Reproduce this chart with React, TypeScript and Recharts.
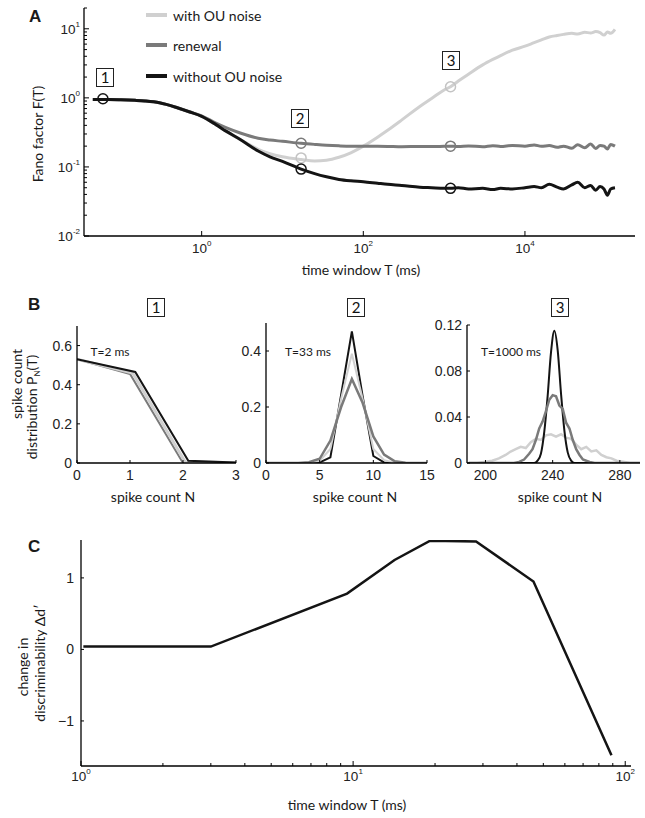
import React from 'react';
import { LineChart, Line, XAxis, YAxis } from 'recharts';

const BLACK = '#141414';
const GRAY = '#7a7a7a';
const LIGHT = '#d0d0d0';
const TICK_FONT = '"Liberation Sans", Arial, sans-serif';
const LABEL_FONT = 'Lato, "Open Sans", sans-serif';

// ---- panel A: Fano factor vs time window (ms)
const fanoT = [0.045, 0.07, 0.1, 0.15, 0.2, 0.3, 0.5, 0.7, 1, 1.5, 2, 3, 5, 7, 10, 17, 25, 35, 50, 70,
  100, 150, 200, 300, 500, 700, 1000, 1200, 1500, 2000, 3000, 4000, 5000, 7000, 10000, 13000, 16000,
  20000, 25000, 30000, 38000, 45000, 55000, 65000, 75000, 85000, 95000, 105000, 115000, 130000];
const fanoWithout = [0.95, 0.95, 0.94, 0.92, 0.9, 0.85, 0.72, 0.63, 0.54, 0.41, 0.33, 0.25, 0.17, 0.14, 0.12,
  0.093, 0.08, 0.072, 0.066, 0.063, 0.061, 0.058, 0.056, 0.054, 0.051, 0.05, 0.049, 0.049,
  0.05, 0.048, 0.049, 0.047, 0.049, 0.048, 0.05, 0.052, 0.05, 0.056, 0.051, 0.048, 0.055, 0.06,
  0.05, 0.054, 0.046, 0.052, 0.048, 0.039, 0.048, 0.05];
const fanoRenewal = [0.95, 0.95, 0.94, 0.92, 0.9, 0.85, 0.72, 0.63, 0.55, 0.43, 0.37, 0.31, 0.26, 0.245, 0.235,
  0.22, 0.212, 0.206, 0.202, 0.2, 0.2, 0.199, 0.198, 0.196, 0.198, 0.197, 0.199, 0.2,
  0.197, 0.201, 0.196, 0.203, 0.198, 0.205, 0.2, 0.208, 0.199, 0.204, 0.192, 0.2, 0.186, 0.21,
  0.19, 0.215, 0.185, 0.205, 0.2, 0.182, 0.212, 0.2];
const fanoOU = [0.95, 0.95, 0.94, 0.92, 0.9, 0.85, 0.72, 0.63, 0.54, 0.41, 0.33, 0.25, 0.18, 0.155, 0.14,
  0.128, 0.122, 0.125, 0.138, 0.16, 0.2, 0.27, 0.34, 0.48, 0.75, 0.98, 1.3, 1.45,
  1.75, 2.2, 3.0, 3.6, 4.1, 4.9, 5.6, 6.3, 6.9, 7.6, 8.0, 8.3, 8.6, 8.4,
  8.9, 8.7, 9.1, 8.8, 8.1, 9.0, 8.6, 9.8];
const markWithoutT = [0.06, 17, 1200];
const markWithoutF = [0.97, 0.093, 0.049];
const markRenewalT = [17, 1200];
const markRenewalF = [0.22, 0.2];
const markOUT = [17, 1200];
const markOUF = [0.135, 1.45];
const aXTicks = [1, 100, 10000];
const aYMajor = [0.01, 0.1, 1, 10];
const aYMinor = [2, 3, 4, 5, 6, 7, 8, 9];

// ---- panel B: spike count distributions
const b1NWithout = [0, 1.1, 2.1, 3];
const b1Without = [0.53, 0.465, 0.012, 0.002];
const b1NRenewal = [0, 1, 2, 3];
const b1Renewal = [0.53, 0.455, 0, 0];
const b1NOU = [0, 1.05, 2.04, 3];
const b1OU = [0.53, 0.46, 0.005, 0.001];
const b1XTicks = [0, 1, 2, 3];
const b1YTicks = [0, 0.2, 0.4, 0.6];

const b2N = [0, 1, 2, 3, 4, 5, 6, 7, 8, 9, 10, 11, 12, 13, 14, 15];
const b2Without = [0, 0, 0, 0, 0, 0.002, 0.02, 0.244, 0.47, 0.24, 0.025, 0.002, 0, 0, 0, 0];
const b2Renewal = [0, 0, 0, 0, 0.003, 0.015, 0.08, 0.2, 0.3, 0.215, 0.095, 0.03, 0.006, 0.001, 0, 0];
const b2OU = [0, 0, 0, 0, 0.001, 0.008, 0.05, 0.23, 0.39, 0.23, 0.05, 0.01, 0.001, 0, 0, 0];
const b2XTicks = [0, 5, 10, 15];
const b2YTicks = [0, 0.2, 0.4];

const b3NWithout = [190, 229, 231, 233, 235, 237, 239, 241, 243, 245, 247, 249, 251, 253, 292];
const b3Without = [0, 0, 0.002, 0.008, 0.027, 0.058, 0.096, 0.115, 0.098, 0.06, 0.028, 0.009, 0.002, 0, 0];
const b3NRenewal = [190, 217, 220, 223, 226, 228, 230, 232, 234, 236, 238, 240, 242, 244, 246, 248, 250,
  252, 254, 256, 258, 260, 262, 265, 292];
const b3Renewal = [0, 0, 0.001, 0.003, 0.008, 0.012, 0.02, 0.03, 0.036, 0.045, 0.055, 0.059, 0.058, 0.05,
  0.047, 0.035, 0.03, 0.02, 0.012, 0.007, 0.003, 0.002, 0.001, 0, 0];
const b3NOU = [190, 195, 200, 204, 208, 212, 215, 218, 221, 224, 227, 230, 233, 236, 239, 242, 245, 248,
  251, 254, 257, 260, 263, 266, 269, 272, 275, 278, 282, 286, 292];
const b3OU = [0, 0, 0.001, 0.002, 0.004, 0.007, 0.01, 0.012, 0.014, 0.013, 0.018, 0.021, 0.02, 0.024,
  0.025, 0.023, 0.025, 0.022, 0.021, 0.016, 0.012, 0.014, 0.01, 0.011, 0.007, 0.005, 0.004, 0.002, 0.001, 0, 0];
const b3XTicks = [200, 240, 280];
const b3YTicks = [0, 0.04, 0.08, 0.12];

// ---- panel C: change in discriminability
const cT = [1.02, 3.0, 9.5, 14.2, 19.2, 28.3, 46, 89];
const cDelta = [0.04, 0.04, 0.78, 1.25, 1.52, 1.51, 0.95, -1.48];
const cXMajor = [1, 10, 100];
const cXMinor = [2, 3, 4, 5, 6, 7, 8, 9, 20, 30, 40, 50, 60, 70, 80, 90];
const cYTicks = [-1, 0, 1];

const rows = (xs: number[], ys: number[]) => xs.map((x, i) => ({ x, y: ys[i] }));

const AXIS_LINE = { stroke: '#000', strokeWidth: 1.3 };

function PowXTick({ x, y, payload, majors, size }: any) {
  const v = payload.value;
  const major = majors.includes(v);
  const e = Math.round(Math.log10(v));
  return (
    <g>
      <line x1={x} x2={x} y1={y} y2={y - (major ? 5 : 3)} stroke="#000" strokeWidth={1} />
      {major && (
        <text x={x} y={y + size} textAnchor="middle" fontFamily={TICK_FONT} fontSize={13.5} fill="#222">
          10<tspan dy={-7} fontSize={8}>{e}</tspan>
        </text>
      )}
    </g>
  );
}

function PowYTick({ x, y, payload, majors }: any) {
  const v = payload.value;
  const major = majors.includes(v);
  const e = Math.round(Math.log10(v));
  return (
    <g>
      <line x1={x} x2={x + (major ? 5 : 3)} y1={y} y2={y} stroke="#000" strokeWidth={1} />
      {major && (
        <text x={x - 4} y={y + 5} textAnchor="end" fontFamily={TICK_FONT} fontSize={13.5} fill="#222">
          10<tspan dy={-7} fontSize={8}>{e}</tspan>
        </text>
      )}
    </g>
  );
}

function NumXTick({ x, y, payload, dy }: any) {
  return (
    <g>
      <line x1={x} x2={x} y1={y} y2={y - 3} stroke="#000" strokeWidth={1} />
      <text x={x} y={y + (dy || 17)} textAnchor="middle" fontFamily={TICK_FONT} fontSize={14} fill="#222">
        {payload.value}
      </text>
    </g>
  );
}

function NumYTick({ x, y, payload, gap }: any) {
  const v = payload.value;
  return (
    <g>
      <line x1={x} x2={x + 3} y1={y} y2={y} stroke="#000" strokeWidth={1} />
      <text x={x - (gap || 5)} y={y + 5} textAnchor="end" fontFamily={TICK_FONT} fontSize={14} fill="#222">
        {v < 0 ? '\u2212' + Math.abs(v) : v}
      </text>
    </g>
  );
}

const abs = (left: number, top: number, extra: React.CSSProperties = {}): React.CSSProperties => ({
  position: 'absolute', left, top, ...extra,
});

function Text({ x, y, children, size = 14, rotate = false, anchor = 'center', font = LABEL_FONT, bold = false }: any) {
  const tx = anchor === 'center' ? '-50%' : anchor === 'end' ? '-100%' : '0';
  return (
    <div style={{
      position: 'absolute', left: x, top: y, whiteSpace: 'nowrap', fontFamily: font, fontSize: size,
      fontWeight: bold ? 700 : 400, color: '#1a1a1a', lineHeight: 1,
      transform: rotate ? `translate(${tx}, -50%) rotate(-90deg)` : `translate(${tx}, -50%)`,
      transformOrigin: 'center',
    }}>{children}</div>
  );
}

function BoxNum({ x, y, n }: any) {
  return (
    <div style={{
      position: 'absolute', left: x - 9, top: y - 9, width: 16, height: 17, border: '1px solid #222',
      fontFamily: LABEL_FONT, fontSize: 15, lineHeight: '17px', textAlign: 'center', color: '#111',
    }}>{n}</div>
  );
}

function LegendRow({ y, color, label }: any) {
  return (
    <div style={abs(146, y - 8, { display: 'flex', alignItems: 'center', height: 16 })}>
      <div style={{ width: 21, height: 3.5, background: color }} />
      <span style={{ marginLeft: 6, fontFamily: LABEL_FONT, fontSize: 14, color: '#1a1a1a' }}>{label}</span>
    </div>
  );
}

function PanelA() {
  const minor = aYMajor.slice(0, 3).flatMap((d) => aYMinor.map((m) => +(d * m).toPrecision(2))).concat([20]);
  const yTicks = [...aYMajor, ...minor].filter((v) => v <= 20).sort((a, b) => a - b);
  return (
    <div style={abs(0, 0)}>
      <LineChart width={645} height={260} margin={{ top: 8, right: 10, left: 0, bottom: 0 }}>
        <XAxis type="number" dataKey="x" scale="log" domain={[0.035, 230000]} allowDataOverflow
          ticks={aXTicks} interval={0} height={24} tickSize={0} tickMargin={0} tickLine={false}
          axisLine={AXIS_LINE} tick={(p: any) => <PowXTick {...p} majors={aXTicks} size={17} />} />
        <YAxis type="number" dataKey="y" scale="log" domain={[0.01, 20]} allowDataOverflow
          ticks={yTicks} interval={0} width={84} tickSize={0} tickMargin={0} tickLine={false}
          axisLine={AXIS_LINE} tick={(p: any) => <PowYTick {...p} majors={aYMajor} />} />
        <Line data={rows(fanoT, fanoOU)} dataKey="y" type="monotone" stroke={LIGHT} strokeWidth={3} dot={false} isAnimationActive={false} />
        <Line data={rows(fanoT, fanoRenewal)} dataKey="y" type="monotone" stroke={GRAY} strokeWidth={3} dot={false} isAnimationActive={false} />
        <Line data={rows(fanoT, fanoWithout)} dataKey="y" type="monotone" stroke={BLACK} strokeWidth={3} dot={false} isAnimationActive={false} />
        <Line data={rows(markOUT, markOUF)} dataKey="y" stroke="none" isAnimationActive={false}
          dot={{ r: 5, fill: 'none', stroke: '#c4c4c4', strokeWidth: 1.5 }} />
        <Line data={rows(markRenewalT, markRenewalF)} dataKey="y" stroke="none" isAnimationActive={false}
          dot={{ r: 5, fill: 'none', stroke: GRAY, strokeWidth: 1.5 }} />
        <Line data={rows(markWithoutT, markWithoutF)} dataKey="y" stroke="none" isAnimationActive={false}
          dot={{ r: 5, fill: 'none', stroke: BLACK, strokeWidth: 1.5 }} />
      </LineChart>
    </div>
  );
}

function DistChart({ left, top, width, height, yWidth, xDomain, yDomain, xTicks, yTicks, series, right }: any) {
  return (
    <div style={abs(left, top)}>
      <LineChart width={width} height={height} margin={{ top: 10, right, left: 0, bottom: 0 }}>
        <XAxis type="number" dataKey="x" domain={xDomain} allowDataOverflow ticks={xTicks} interval={0}
          height={23} tickSize={0} tickMargin={0} tickLine={false} axisLine={AXIS_LINE}
          tick={(p: any) => <NumXTick {...p} />} />
        <YAxis type="number" dataKey="y" domain={yDomain} allowDataOverflow ticks={yTicks} interval={0}
          width={yWidth} tickSize={0} tickMargin={0} tickLine={false} axisLine={AXIS_LINE}
          tick={(p: any) => <NumYTick {...p} />} />
        {series.map((s: any, i: number) => (
          <Line key={i} data={s.data} dataKey="y" type={s.curve || 'linear'} stroke={s.color} strokeWidth={s.w}
            dot={false} isAnimationActive={false} />
        ))}
      </LineChart>
    </div>
  );
}

function PanelC() {
  const xTicks = [...cXMajor, ...cXMinor].sort((a, b) => a - b);
  return (
    <div style={abs(0, 530)}>
      <LineChart width={645} height={260} margin={{ top: 10, right: 14, left: 0, bottom: 0 }}>
        <XAxis type="number" dataKey="x" scale="log" domain={[1, 105]} allowDataOverflow ticks={xTicks}
          interval={0} height={24} tickSize={0} tickMargin={0} tickLine={false} axisLine={AXIS_LINE}
          tick={(p: any) => <PowXTick {...p} majors={cXMajor} size={15} />} />
        <YAxis type="number" dataKey="y" domain={[-1.63, 1.53]} allowDataOverflow ticks={cYTicks} interval={0}
          width={81} tickSize={0} tickMargin={0} tickLine={false} axisLine={AXIS_LINE}
          tick={(p: any) => <NumYTick {...p} gap={7} />} />
        <Line data={rows(cT, cDelta)} dataKey="y" stroke={BLACK} strokeWidth={2.5} dot={false}
          type="linear" isAnimationActive={false} />
      </LineChart>
    </div>
  );
}

export default function App() {
  return (
    <div style={{ position: 'absolute', left: 0, top: 0, width: 645, height: 818, background: '#fff', overflow: 'hidden' }}>
      <PanelA />
      <Text x={29} y={16} size={17} bold font={TICK_FONT} anchor="start">A</Text>
      <Text x={38} y={134} rotate>Fano factor F(T)</Text>
      <Text x={361} y={270}>time window T (ms)</Text>
      <LegendRow y={15} color={LIGHT} label="with OU noise" />
      <LegendRow y={45} color={GRAY} label="renewal" />
      <LegendRow y={76} color={BLACK} label="without OU noise" />
      <BoxNum x={105} y={77} n="1" />
      <BoxNum x={300} y={118} n="2" />
      <BoxNum x={451} y={60} n="3" />

      <Text x={28} y={304} size={17} bold font={TICK_FONT} anchor="start">B</Text>
      <BoxNum x={156} y={307} n="1" />
      <BoxNum x={356} y={307} n="2" />
      <BoxNum x={560} y={307} n="3" />
      <Text x={17} y={384} rotate>spike count</Text>
      <Text x={33} y={407} rotate>distribution P<sub style={{ fontSize: 8 }}>N</sub>(T)</Text>
      <DistChart left={0} top={316} width={246} height={170} yWidth={77} right={10}
        xDomain={[0, 3]} yDomain={[0, 0.7]} xTicks={b1XTicks} yTicks={b1YTicks}
        series={[
          { data: rows(b1NRenewal, b1Renewal), color: GRAY, w: 2 },
          { data: rows(b1NOU, b1OU), color: LIGHT, w: 3 },
          { data: rows(b1NWithout, b1Without), color: BLACK, w: 2 },
        ]} />
      <DistChart left={200} top={313} width={237} height={173} yWidth={66} right={10}
        xDomain={[0, 15]} yDomain={[0, 0.5]} xTicks={b2XTicks} yTicks={b2YTicks}
        series={[
          { data: rows(b2N, b2Without), color: BLACK, w: 2 },
          { data: rows(b2N, b2OU), color: LIGHT, w: 2 },
          { data: rows(b2N, b2Renewal), color: GRAY, w: 2.5 },
        ]} />
      <DistChart left={400} top={315} width={245} height={171} yWidth={67} right={5}
        xDomain={[189, 292]} yDomain={[0, 0.12]} xTicks={b3XTicks} yTicks={b3YTicks}
        series={[
          { data: rows(b3NOU, b3OU), color: LIGHT, w: 2.5 },
          { data: rows(b3NWithout, b3Without), color: BLACK, w: 2, curve: 'monotone' },
          { data: rows(b3NRenewal, b3Renewal), color: GRAY, w: 2.5 },
        ]} />
      <Text x={110} y={352} size={12} anchor="center">T=2 ms</Text>
      <Text x={308} y={352} size={12} anchor="center">T=33 ms</Text>
      <Text x={511} y={352} size={12} anchor="center">T=1000 ms</Text>
      <Text x={153} y={497}>spike count N</Text>
      <Text x={355} y={497}>spike count N</Text>
      <Text x={560} y={497}>spike count N</Text>

      <Text x={28} y={546} size={17} bold font={TICK_FONT} anchor="start">C</Text>
      <PanelC />
      <Text x={23} y={667} rotate>change in</Text>
      <Text x={40} y={663} rotate>discriminability Δd′</Text>
      <Text x={347} y={805}>time window T (ms)</Text>
    </div>
  );
}
